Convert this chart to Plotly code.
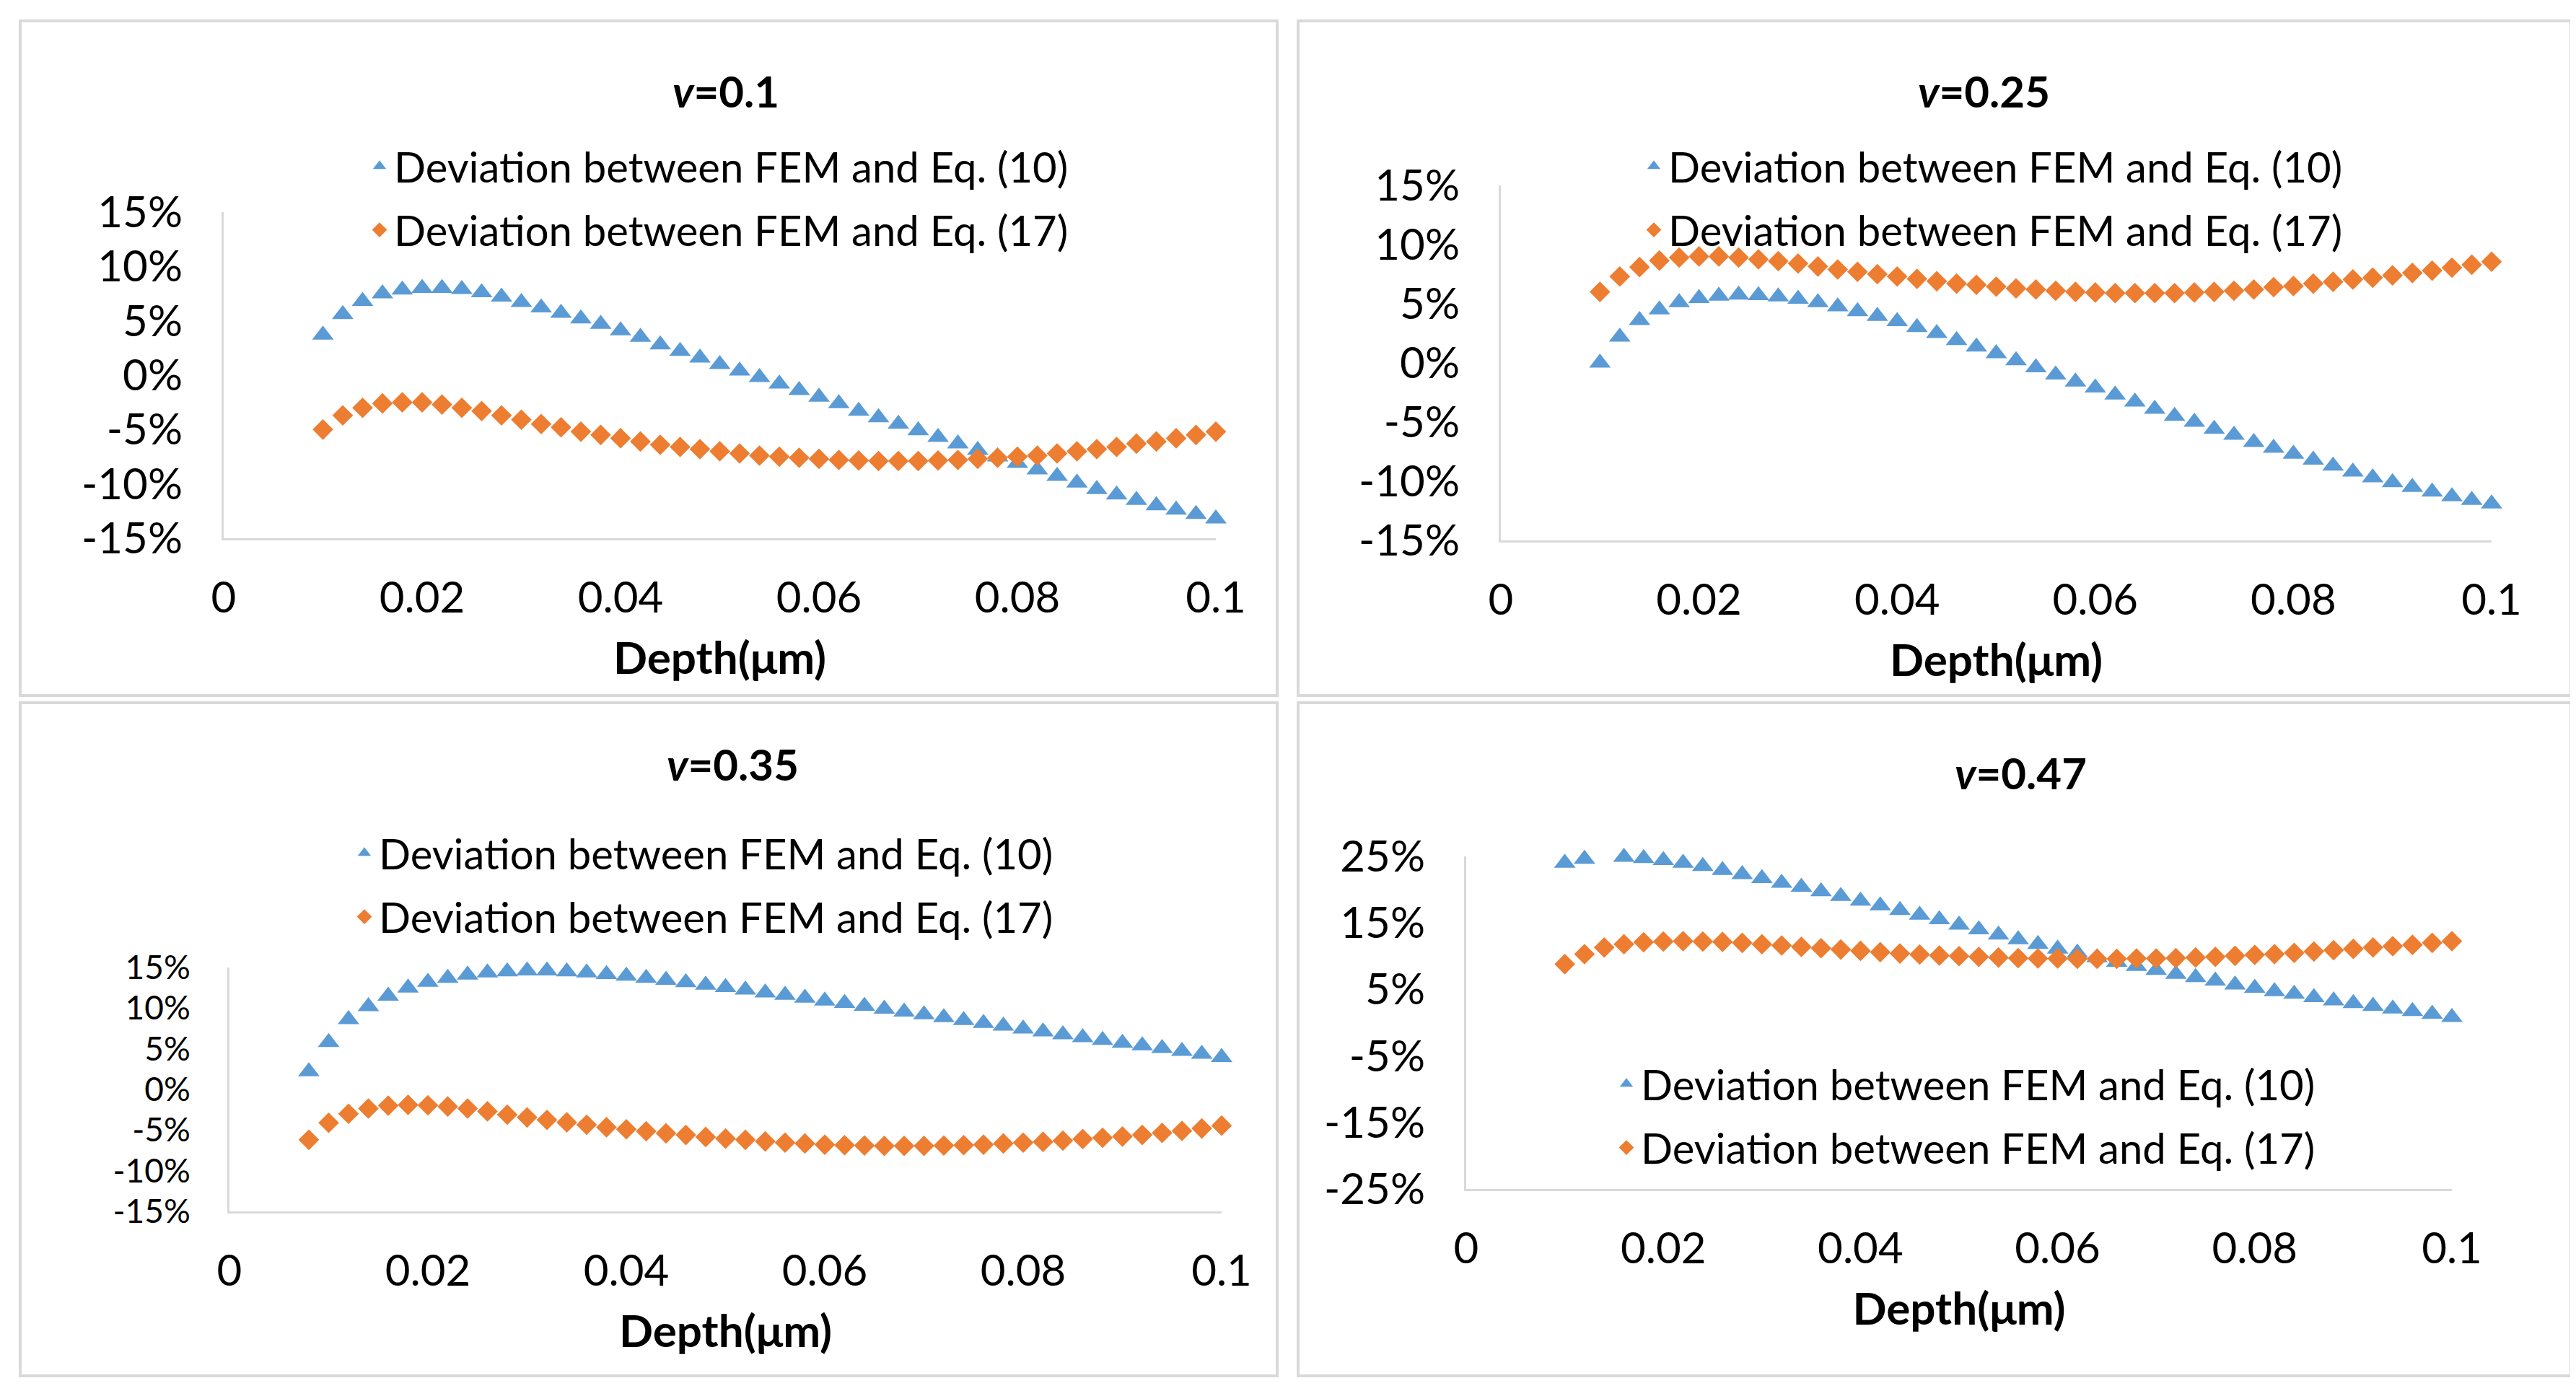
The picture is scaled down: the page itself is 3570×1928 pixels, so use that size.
import plotly.graph_objects as go

W, H = 3570, 1928
FONT = "Lato, 'Open Sans', sans-serif"
BLUE = "#5B9BD5"
ORANGE = "#ED7D31"

# ---------------- data ----------------
depth = [0.010, 0.012, 0.014, 0.016, 0.018, 0.020, 0.022, 0.024, 0.026, 0.028,
         0.030, 0.032, 0.034, 0.036, 0.038, 0.040, 0.042, 0.044, 0.046, 0.048,
         0.050, 0.052, 0.054, 0.056, 0.058, 0.060, 0.062, 0.064, 0.066, 0.068,
         0.070, 0.072, 0.074, 0.076, 0.078, 0.080, 0.082, 0.084, 0.086, 0.088,
         0.090, 0.092, 0.094, 0.096, 0.098, 0.100]
depth_v035 = [0.008, 0.010, 0.012, 0.014, 0.016, 0.018, 0.020, 0.022, 0.024, 0.026, 0.028,
              0.030, 0.032, 0.034, 0.036, 0.038, 0.040, 0.042, 0.044, 0.046, 0.048,
              0.050, 0.052, 0.054, 0.056, 0.058, 0.060, 0.062, 0.064, 0.066, 0.068,
              0.070, 0.072, 0.074, 0.076, 0.078, 0.080, 0.082, 0.084, 0.086, 0.088,
              0.090, 0.092, 0.094, 0.096, 0.098, 0.100]
depth_v047_eq10 = [0.010, 0.012, 0.016, 0.018, 0.020, 0.022, 0.024, 0.026, 0.028,
                   0.030, 0.032, 0.034, 0.036, 0.038, 0.040, 0.042, 0.044, 0.046, 0.048,
                   0.050, 0.052, 0.054, 0.056, 0.058, 0.060, 0.062, 0.064, 0.066, 0.068,
                   0.070, 0.072, 0.074, 0.076, 0.078, 0.080, 0.082, 0.084, 0.086, 0.088,
                   0.090, 0.092, 0.094, 0.096, 0.098, 0.100]

# deviations in percent
eq10_v010 = [3.7, 5.6, 6.8, 7.5, 7.85, 8.0, 8.0, 7.9, 7.6, 7.2, 6.7, 6.2, 5.7, 5.2, 4.7,
             4.1, 3.5, 2.8, 2.2, 1.6, 1.0, 0.4, -0.2, -0.8, -1.4, -2.0, -2.6, -3.3, -3.9,
             -4.5, -5.1, -5.7, -6.3, -6.9, -7.5, -8.1, -8.7, -9.3, -9.9, -10.5, -11.0,
             -11.5, -12.0, -12.4, -12.8, -13.2]
eq17_v010 = [-5.0, -3.7, -3.0, -2.6, -2.5, -2.5, -2.7, -3.0, -3.3, -3.7, -4.1, -4.5, -4.8,
             -5.2, -5.5, -5.8, -6.1, -6.4, -6.6, -6.8, -7.0, -7.2, -7.4, -7.5, -7.6, -7.7,
             -7.8, -7.85, -7.9, -7.9, -7.9, -7.85, -7.8, -7.7, -7.6, -7.5, -7.4, -7.2, -7.0,
             -6.8, -6.6, -6.3, -6.1, -5.8, -5.5, -5.2]

eq10_v025 = [0.0, 2.2, 3.6, 4.5, 5.1, 5.45, 5.65, 5.75, 5.7, 5.6, 5.4, 5.1, 4.75, 4.35, 3.95,
             3.5, 3.0, 2.5, 1.9, 1.35, 0.8, 0.2, -0.4, -1.0, -1.6, -2.1, -2.7, -3.3, -3.9,
             -4.5, -5.0, -5.6, -6.1, -6.7, -7.2, -7.7, -8.2, -8.7, -9.2, -9.7, -10.1, -10.5,
             -10.9, -11.3, -11.6, -11.9]
eq17_v025 = [6.0, 7.3, 8.1, 8.65, 8.9, 9.0, 9.0, 8.9, 8.75, 8.6, 8.4, 8.15, 7.9, 7.7, 7.5,
             7.3, 7.1, 6.9, 6.7, 6.6, 6.45, 6.3, 6.2, 6.1, 6.0, 5.95, 5.9, 5.9, 5.9, 5.9,
             5.95, 6.0, 6.1, 6.2, 6.4, 6.5, 6.7, 6.85, 7.05, 7.2, 7.4, 7.6, 7.8, 8.05, 8.3, 8.55]

eq10_v035 = [2.2, 5.8, 8.6, 10.2, 11.5, 12.5, 13.2, 13.7, 14.1, 14.35, 14.5, 14.6, 14.6, 14.5,
             14.35, 14.15, 13.95, 13.7, 13.45, 13.15, 12.85, 12.55, 12.25, 11.9, 11.6, 11.25,
             10.9, 10.6, 10.25, 9.9, 9.55, 9.2, 8.85, 8.5, 8.15, 7.8, 7.45, 7.1, 6.75, 6.4,
             6.05, 5.7, 5.4, 5.05, 4.7, 4.35, 3.95]
eq17_v035 = [-6.2, -4.1, -3.0, -2.35, -2.0, -1.9, -1.95, -2.1, -2.35, -2.7, -3.1, -3.45, -3.75,
             -4.05, -4.35, -4.65, -4.9, -5.15, -5.4, -5.6, -5.85, -6.05, -6.2, -6.4, -6.55,
             -6.65, -6.8, -6.85, -6.9, -6.95, -6.95, -6.95, -6.9, -6.85, -6.8, -6.65, -6.55,
             -6.45, -6.3, -6.1, -5.95, -5.8, -5.6, -5.35, -5.1, -4.8, -4.45]

eq10_v047 = [24.0, 24.6, 24.9, 24.7, 24.4, 24.0, 23.5, 22.9, 22.3, 21.7, 21.0, 20.4, 19.7,
             19.0, 18.3, 17.6, 16.9, 16.2, 15.5, 14.7, 14.0, 13.2, 12.5, 11.8, 11.1, 10.5,
             9.8, 9.1, 8.5, 7.9, 7.3, 6.8, 6.3, 5.7, 5.2, 4.7, 4.3, 3.8, 3.3, 2.9, 2.5, 2.1,
             1.7, 1.3, 0.8]
eq17_v047 = [8.8, 10.3, 11.3, 11.8, 12.1, 12.2, 12.25, 12.2, 12.15, 12.0, 11.8, 11.6, 11.4,
             11.2, 11.0, 10.8, 10.6, 10.4, 10.25, 10.1, 10.0, 9.9, 9.8, 9.7, 9.65, 9.65, 9.6,
             9.6, 9.6, 9.65, 9.65, 9.7, 9.8, 9.9, 10.05, 10.2, 10.3, 10.5, 10.7, 10.9, 11.1,
             11.3, 11.5, 11.7, 12.0, 12.25]

series_names = ["Deviation between FEM and Eq. (10)", "Deviation between FEM and Eq. (17)"]
panel_titles = ["<b><i>v</i>=0.1</b>", "<b><i>v</i>=0.25</b>",
                "<b><i>v</i>=0.35</b>", "<b><i>v</i>=0.47</b>"]
x_title = "<b>Depth(μm)</b>"
x_tickvals = [0, 0.02, 0.04, 0.06, 0.08, 0.1]
x_ticktext = ["0", "0.02", "0.04", "0.06", "0.08", "0.1"]
y_tickvals_15 = [-15, -10, -5, 0, 5, 10, 15]
y_ticktext_15 = ["-15%", "-10%", "-5%", "0%", "5%", "10%", "15%"]
y_tickvals_25 = [-25, -15, -5, 5, 15, 25]
y_ticktext_25 = ["-25%", "-15%", "-5%", "5%", "15%", "25%"]

panels = [
    dict(x10=depth, y10=eq10_v010, x17=depth, y17=eq17_v010,
         yr=[-15, 15], tv=y_tickvals_15, tt=y_ticktext_15, yfs=60),
    dict(x10=depth, y10=eq10_v025, x17=depth, y17=eq17_v025,
         yr=[-15, 15], tv=y_tickvals_15, tt=y_ticktext_15, yfs=60),
    dict(x10=depth_v035, y10=eq10_v035, x17=depth_v035, y17=eq17_v035,
         yr=[-15, 15], tv=y_tickvals_15, tt=y_ticktext_15, yfs=46),
    dict(x10=depth_v047_eq10, y10=eq10_v047, x17=depth, y17=eq17_v047,
         yr=[-25, 25], tv=y_tickvals_25, tt=y_ticktext_25, yfs=60),
]

# ---------------- layout geometry (pixels) ----------------
plot_boxes = [(302, 286, 1677, 738), (2072, 249, 3445, 741),
              (310, 1333, 1685, 1671), (2024, 1179, 3390, 1640)]
border_boxes = [(20, 21, 1762, 956), (1791, 21, 3555, 956),
                (20, 966, 1762, 1899), (1791, 966, 3555, 1899)]
legend_pos = [(498, 178), (2264, 178), (477, 1130), (2226, 1450)]
title_pos = [(998, 118), (2741, 118), (1007, 1051), (2792, 1063)]


def px(x):
    return x / W


def py(y):
    return 1 - y / H


fig = go.Figure()
layout = dict(width=W, height=H,
              margin=dict(l=0, r=0, t=0, b=0, pad=0, autoexpand=False),
              paper_bgcolor="white", plot_bgcolor="white",
              font=dict(family=FONT, size=58, color="#000000"),
              shapes=[], annotations=[])

for i, p in enumerate(panels):
    n = "" if i == 0 else str(i + 1)
    lg = "legend" if i == 0 else "legend" + str(i + 1)
    fig.add_trace(go.Scatter(
        x=p["x10"], y=p["y10"], mode="markers", name=series_names[0],
        marker=dict(symbol="triangle-up", size=26, color=BLUE),
        xaxis="x" + n, yaxis="y" + n, legend=lg, legendgroup=f"a{i}",
        cliponaxis=False))
    fig.add_trace(go.Scatter(
        x=p["x17"], y=p["y17"], mode="markers", name=series_names[1],
        marker=dict(symbol="diamond", size=22, color=ORANGE),
        xaxis="x" + n, yaxis="y" + n, legend=lg, legendgroup=f"b{i}",
        cliponaxis=False))

    x0, y0, x1, y1 = plot_boxes[i]
    layout["xaxis" + n] = dict(
        domain=[px(x0), px(x1)], range=[0, 0.1], anchor="y" + n, automargin=False,
        tickvals=x_tickvals, ticktext=x_ticktext, ticks="", ticklabelstandoff=28,
        showline=True, linecolor="#d9d9d9", linewidth=3, showgrid=False,
        zeroline=False, tickfont=dict(size=60, color="#000000"),
        title=dict(text=x_title, standoff=30, font=dict(size=62, color="#000000")))
    layout["yaxis" + n] = dict(
        domain=[py(y1), py(y0)], range=p["yr"], anchor="x" + n, automargin=False,
        tickvals=p["tv"], ticktext=p["tt"], ticks="", ticklabelstandoff=42,
        showline=True, linecolor="#d9d9d9", linewidth=3, showgrid=False,
        zeroline=False, tickfont=dict(size=p["yfs"], color="#000000"))

    lx, ly = legend_pos[i]
    layout[lg] = dict(x=px(lx), y=py(ly), xanchor="left", yanchor="top",
                      bgcolor="rgba(0,0,0,0)", borderwidth=0, tracegroupgap=10,
                      font=dict(size=58, color="#000000"), orientation="v")

    bx0, by0, bx1, by1 = border_boxes[i]
    layout["shapes"].append(dict(type="rect", xref="paper", yref="paper",
                                 x0=px(bx0), x1=px(bx1), y0=py(by1), y1=py(by0),
                                 line=dict(color="#d9d9d9", width=4),
                                 fillcolor="rgba(0,0,0,0)", layer="below"))
    tx, ty = title_pos[i]
    layout["annotations"].append(dict(text=panel_titles[i], x=px(tx), y=py(ty),
                                      xref="paper", yref="paper", showarrow=False,
                                      xanchor="center", yanchor="middle",
                                      font=dict(size=60, color="#000000")))

fig.update_layout(**layout)
fig.write_html("out.html")
